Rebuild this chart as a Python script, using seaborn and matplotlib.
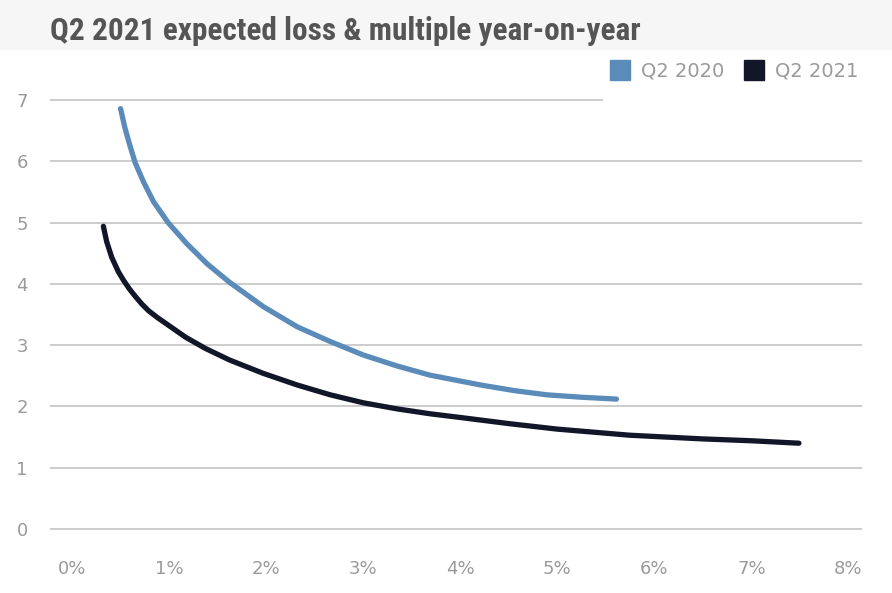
import matplotlib
matplotlib.use("Agg")
import matplotlib.pyplot as plt
import seaborn as sns
import pandas as pd
from matplotlib.patches import Rectangle
from matplotlib.ticker import FuncFormatter

OUT_PATH = "out.png"

# expected loss (%) vs multiple
LOSS_2020 = [0.50, 0.546, 0.598, 0.65, 0.735, 0.84, 0.99, 1.18, 1.39, 1.62, 1.97, 2.32,
             2.66, 3.00, 3.35, 3.69, 4.21, 4.55, 4.89, 5.25, 5.61]
MULT_2020 = [6.86, 6.54, 6.25, 5.98, 5.67, 5.34, 5.00, 4.66, 4.33, 4.03, 3.63, 3.30,
             3.06, 2.84, 2.66, 2.51, 2.35, 2.26, 2.19, 2.15, 2.12]
LOSS_2021 = [0.323, 0.357, 0.41, 0.477, 0.53, 0.59, 0.65, 0.72, 0.79, 0.88, 0.98, 1.17,
             1.37, 1.62, 1.97, 2.32, 2.66, 3.00, 3.35, 3.69, 4.00, 4.50, 5.00, 5.75,
             6.50, 7.00, 7.49]
MULT_2021 = [4.94, 4.69, 4.43, 4.20, 4.06, 3.92, 3.80, 3.67, 3.56, 3.45, 3.34, 3.13,
             2.95, 2.76, 2.54, 2.35, 2.19, 2.06, 1.96, 1.88, 1.82, 1.72, 1.63, 1.53,
             1.47, 1.44, 1.40]
SERIES = ["Q2 2020", "Q2 2021"]
X_TICKS = [0, 1, 2, 3, 4, 5, 6, 7, 8]
Y_TICKS = [0, 1, 2, 3, 4, 5, 6, 7]
TITLE = "Q2 2021 expected loss & multiple year-on-year"

COLORS = {"Q2 2020": "#5b8bb9", "Q2 2021": "#121629"}
GRID = "#c4c4c4"
TICK_COLOR = "#9a9a9a"


def build_frame():
    """Long-form table for seaborn."""
    a = pd.DataFrame({"loss": LOSS_2020, "multiple": MULT_2020, "series": SERIES[0]})
    b = pd.DataFrame({"loss": LOSS_2021, "multiple": MULT_2021, "series": SERIES[1]})
    return pd.concat([a, b], ignore_index=True)


def draw():
    sns.set_theme(style="white")
    plt.rcParams["font.family"] = ["DejaVu Sans"]

    fig = plt.figure(figsize=(8.92, 5.93), dpi=100)
    # light title band
    fig.patches.append(Rectangle((0, 1 - 50 / 593), 1, 50 / 593, transform=fig.transFigure,
                                 facecolor="#f6f6f6", edgecolor="none", zorder=0))
    ax = fig.add_axes([50 / 892, 0.0976, 812 / 892, 0.744])
    ax.set_facecolor("none")

    df = build_frame()
    sns.lineplot(data=df, x="loss", y="multiple", hue="series", palette=COLORS,
                 sort=False, linewidth=3.8, legend=False, ax=ax, zorder=3,
                 solid_capstyle="round", solid_joinstyle="round")

    ax.set_xlim(-0.227, 8.14)
    ax.set_ylim(-0.1, 7.1)
    ax.set_xticks(X_TICKS)
    ax.set_yticks(Y_TICKS)
    ax.xaxis.set_major_formatter(FuncFormatter(lambda v, p: f"{int(v)}%"))
    ax.set_xlabel("")
    ax.set_ylabel("")
    for s in ax.spines.values():
        s.set_visible(False)
    ax.grid(False)
    for y in Y_TICKS:
        ax.axhline(y, color=GRID, linewidth=1.2, zorder=1)
    # legend area hides the end of the top gridline
    ax.add_patch(Rectangle((0.681, 0.95), 0.4, 0.1, transform=ax.transAxes,
                           facecolor="white", edgecolor="none", zorder=2, clip_on=False))

    ax.tick_params(axis="both", length=0, labelsize=13, labelcolor=TICK_COLOR)
    ax.tick_params(axis="y", pad=16)
    ax.tick_params(axis="x", pad=18)

    fig.text(50 / 892, 1 - 31 / 593, TITLE, fontsize=22.5, fontweight="bold",
             color="#555555", va="center", ha="left",
             family=["Roboto Condensed", "Roboto", "DejaVu Sans"])

    # legend
    handles = [plt.Line2D([], [], marker="s", linestyle="none", markersize=15,
                          markerfacecolor=COLORS[s], markeredgecolor=COLORS[s])
               for s in SERIES]
    leg = fig.legend(handles, SERIES, loc="center right",
                     bbox_to_anchor=(876 / 892, 1 - 71 / 593), ncol=2, frameon=False,
                     handletextpad=0.5, columnspacing=0.9, handlelength=1.2,
                     prop={"family": "DejaVu Sans", "size": 14})
    for t in leg.get_texts():
        t.set_color(TICK_COLOR)

    fig.savefig(OUT_PATH, dpi=100)
    plt.close(fig)


if __name__ == "__main__":
    draw()
